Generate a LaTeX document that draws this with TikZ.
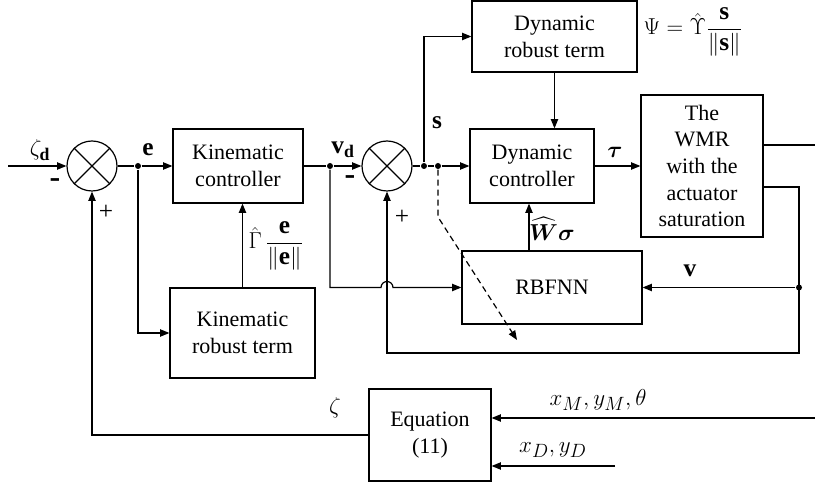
\documentclass[tikz,border=0pt]{standalone}
\usepackage{amsmath}
\usepackage{fontspec}
\setmainfont{Liberation Serif}
\usetikzlibrary{arrows.meta}
\newcommand{\dfs}{\fontsize{16.5}{20}\selectfont}
\newcommand{\bfs}{\fontsize{19}{22}\selectfont}
\newcommand{\mfs}{\fontsize{24}{26}\selectfont\bfseries}
\begin{document}
\begin{tikzpicture}[x=0.75pt,y=-0.75pt,
  line width=0.9pt,
  >={Triangle[length=7pt,width=5.5pt]},
  blk/.style={draw,line width=0.9pt,align=center,inner sep=0pt,font=\dfs},
  sumc/.style={draw,circle,minimum size=37.5pt,inner sep=0pt},
  dot/.style={circle,fill,inner sep=0pt,minimum size=4.5pt},
  lab/.style={font=\dfs,inner sep=0pt},
  blab/.style={font=\bfs,inner sep=0pt},
  mlab/.style={font=\mfs,inner sep=0pt},
  dsh/.style={dash pattern=on 4.5pt off 3pt}
]
\useasboundingbox (0,0) rectangle (815,491);

% summing junctions
\node[sumc] (s1) at (92,166) {};
\draw (s1.north west) -- (s1.south east) (s1.north east) -- (s1.south west);
\node[sumc] (s2) at (387,166) {};
\draw (s2.north west) -- (s2.south east) (s2.north east) -- (s2.south west);

% blocks
\node[blk,minimum width=97.5pt,minimum height=55.5pt] (kc) at (238,166) {Kinematic\\controller};
\node[blk,minimum width=108.75pt,minimum height=67.5pt] (krt) at (242.5,333) {Kinematic\\robust term};
\node[blk,minimum width=93pt,minimum height=55.5pt] (dc) at (532,166) {Dynamic\\controller};
\node[blk,minimum width=123.75pt,minimum height=53.25pt] (drt) at (554.5,36.5) {Dynamic\\robust term};
\node[blk,minimum width=91.5pt,minimum height=106.5pt] (wmr) at (702,166) {The\\WMR\\with the\\actuator\\saturation};
\node[blk,minimum width=135pt,minimum height=54.75pt] (rbf) at (552,287.5) {RBFNN};
\node[blk,minimum width=91.5pt,minimum height=69pt] (eq) at (430,435) {Equation\\(11)};

% junction dots
\node[dot] (je) at (138,166) {};
\node[dot] (jv) at (330,166) {};
\node[dot] (js) at (424,166) {};
\node[dot] (jd) at (438,166) {};
\node[dot] (jr) at (799,287.5) {};

% helper coordinates
\coordinate (in) at (8,166);
\coordinate (out) at (815,145);
\coordinate (c1) at (799,187);
\coordinate (c2) at (799,353);
\coordinate (w) at (529,0);
\coordinate (d1) at (438,217);
\coordinate (d2) at (517,340);
\coordinate (xm) at (815,418);
\coordinate (xd) at (615,466);
\coordinate (h1) at (381,287.5);

% connectors
\draw[->] (in) -- (s1.west);
\draw (s1.east) -- (je);
\draw[->] (je) -- (kc.west);
\draw[->] (je) |- (krt.west);
\draw[->] (krt.north) -- (krt.north|-kc.south);
\draw (kc.east) -- (jv);
\draw[->] (jv) -- (s2.west);
\draw[->] (jv) |- (h1) arc[start angle=180,end angle=360,radius=6] -- (rbf.west);
\draw (s2.east) -- (js) -- (jd);
\draw[->] (jd) -- (dc.west);
\draw[->] (js) |- (drt.west);
\draw[->] (drt.south) -- (drt.south|-dc.north);
\draw[->] (dc.east) -- (wmr.west);
\draw (wmr.east|-out) -- (out);
\draw[->] (wmr.east|-c1) -- (c1) -- (c2) -| (s2.south);
\draw[->] (jr) -- (rbf.east);
\draw[->] (rbf.north-|w) -- (dc.south-|w);
\draw[->,dsh] (jd) -- (d1) -- (d2);
\draw[->] (eq.west) -| (s1.south);
\draw[->] (xm) -- (eq.east|-xm);
\draw[->] (xd) -- (eq.east|-xd);

% labels
\node[blab] (lzd) at (40,150) {$\zeta_{\mathbf{d}}$};
\node[mlab] (lm1) at (55,183) {-};
\node[blab] (lp1) at (106,212) {+};
\node[blab] (le) at (148,150) {$\mathbf{e}$};
\node[blab] (lvd) at (343,150) {$\mathbf{v}_{\mathbf{d}}$};
\node[mlab] (lm2) at (350,180) {-};
\node[blab] (lp2) at (402,217) {+};
\node[blab] (ls) at (437,123) {$\mathbf{s}$};
\node[blab] (ltau) at (615,152) {$\boldsymbol{\tau}$};
\node[blab] (lv) at (690,271) {$\mathbf{v}$};
\node[lab] (lw) at (552,229) {$\widehat{\boldsymbol{W}}\boldsymbol{\sigma}$};
\node[blab,anchor=west] (lg) at (248,246) {$\hat{\Gamma}\,\dfrac{\mathbf{e}}{\|\mathbf{e}\|}$};
\node[blab,anchor=west] (lpsi) at (643,32) {$\Psi=\hat{\Upsilon}\dfrac{\mathbf{s}}{\|\mathbf{s}\|}$};
\node[blab] (lz) at (335,408) {$\zeta$};
\node[blab] (lxm) at (598,400) {$x_M, y_M, \theta$};
\node[blab] (lxd) at (553,450) {$x_D, y_D$};
\end{tikzpicture}
\end{document}
